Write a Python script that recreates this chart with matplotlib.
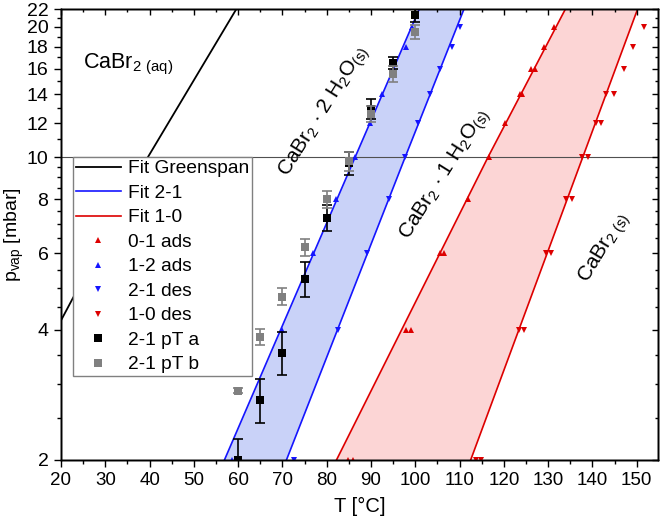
import numpy as np
import matplotlib
matplotlib.use('Agg')
import matplotlib.pyplot as plt
from matplotlib.ticker import FixedLocator, NullFormatter, FixedFormatter

plt.rcParams['font.family'] = ['Liberation Sans', 'DejaVu Sans']
plt.rcParams['mathtext.default'] = 'regular'

# ---------------- data ----------------
# fit lines: temperature (°C) at pressures fit_p (mbar)
fit_p = [2, 10, 22]
greenspan_T = [20.0, 39.6, 59.6]
greenspan_p = [4.2, 10.0, 22.0]
fit21_ads_T = [56.9, 86.4, 100.9]
fit21_des_T = [70.9, 97.7, 111.0]
fit10_ads_T = [82.2, 116.4, 133.9]
fit10_des_T = [112.5, 137.8, 150.2]

# 0-1 ads (red, up)
ads01_T = [84.9, 86.0, 98.0, 99.0, 105.6, 106.4, 111.9, 116.6, 120.3, 123.6, 124.2, 126.1, 127.1, 129.0, 131.3]
ads01_p = [2, 2, 4, 4, 6, 6, 8, 10, 12, 14, 14, 16, 16, 18, 20]
# 1-2 ads (blue, up)
ads12_T = [58.7, 70.0, 77.0, 82.0, 86.3, 89.8, 92.5, 95.0, 97.9, 99.3]
ads12_p = [2, 4, 6, 8, 10, 12, 14, 16, 18, 20]
# 2-1 des (blue, down)
des21_T = [72.7, 82.5, 89.2, 94.0, 97.6, 100.6, 103.4, 105.5, 108.3, 110.2]
des21_p = [2, 4, 6, 8, 10, 12, 14, 16, 18, 20]
# 1-0 des (red, down)
des10_T = [113.8, 114.8, 123.5, 124.6, 129.5, 130.7, 134.0, 135.3, 137.6, 138.9,
           140.7, 141.9, 143.1, 144.8, 147.1, 149.2, 151.7]
des10_p = [2, 2, 4, 4, 6, 6, 8, 8, 10, 10, 12, 12, 14, 14, 16, 18, 20]
# 2-1 pT a / b
pT_T = [60, 65, 70, 75, 80, 85, 90, 95, 100]
pTa_p = [2.0, 2.75, 3.54, 5.24, 7.26, 9.7, 12.95, 16.5, 21.3]
pTa_err = [0.24, 0.32, 0.40, 0.48, 0.52, 0.6, 0.7, 0.55, 0.8]
pTb_p = [2.89, 3.85, 4.77, 6.2, 8.0, 9.8, 12.6, 15.6, 19.5]
pTb_err = [0.04, 0.16, 0.22, 0.28, 0.38, 0.5, 0.55, 0.65, 0.7]

x_ticks = list(range(20, 151, 10))
x_minor = list(range(25, 155, 10))
y_ticks = [2, 4, 6, 8, 10, 12, 14, 16, 18, 20, 22]
y_minor = [2.5, 3, 3.5, 4.5, 5, 5.5, 6.5, 7, 7.5, 8.5, 9, 9.5, 11, 13, 15, 17, 19, 21]

BLUE = '#1515ff'
RED = '#dd0000'
GREY = '#808080'

# ---------------- figure ----------------
fig = plt.figure(figsize=(6.61, 5.16), dpi=100)
W, H = 661, 516
L, R, T, B = 61, 658, 9, 460
ax = fig.add_axes([L / W, 1 - B / H, (R - L) / W, (B - T) / H])
ax.set_yscale('log')
ax.set_xlim(20, 154.8)
ax.set_ylim(2, 22)

# shaded regions
ax.fill(np.concatenate([fit21_ads_T, fit21_des_T[::-1]]),
        np.concatenate([fit_p, fit_p[::-1]]), color='#c9d2f8', lw=0, zorder=1)
ax.fill(np.concatenate([fit10_ads_T, fit10_des_T[::-1]]),
        np.concatenate([fit_p, fit_p[::-1]]), color='#fcd5d5', lw=0, zorder=1)

ax.axhline(10, color='#505050', lw=0.8, zorder=1.5)

ax.plot(greenspan_T, greenspan_p, color='black', lw=1.3, label='Fit Greenspan', zorder=2)
ax.plot(fit21_ads_T, fit_p, color=BLUE, lw=1.2, label='Fit 2-1', zorder=2)
ax.plot(fit21_des_T, fit_p, color=BLUE, lw=1.2, zorder=2)
ax.plot(fit10_ads_T, fit_p, color=RED, lw=1.2, label='Fit 1-0', zorder=2)
ax.plot(fit10_des_T, fit_p, color=RED, lw=1.2, zorder=2)

ms_tri = 4.8
ax.plot(ads01_T, ads01_p, ls='none', marker='^', ms=ms_tri, color=RED, mew=0, label='0-1 ads', zorder=3)
ax.plot(ads12_T, ads12_p, ls='none', marker='^', ms=ms_tri, color=BLUE, mew=0, label='1-2 ads', zorder=3)
ax.plot(des21_T, des21_p, ls='none', marker='v', ms=ms_tri, color=BLUE, mew=0, label='2-1 des', zorder=3)
ax.plot(des10_T, des10_p, ls='none', marker='v', ms=ms_tri, color=RED, mew=0, label='1-0 des', zorder=3)

ax.errorbar(pT_T, pTa_p, yerr=pTa_err, fmt='none', ecolor='black', elinewidth=1.2,
            capsize=3.3, capthick=1.2, zorder=4)
ax.plot(pT_T, pTa_p, ls='none', marker='s', ms=6.2, color='black', mew=0, label='2-1 pT a', zorder=4.1)
ax.errorbar(pT_T, pTb_p, yerr=pTb_err, fmt='none', ecolor=GREY, elinewidth=1.2,
            capsize=3.3, capthick=1.2, zorder=4.2)
ax.plot(pT_T, pTb_p, ls='none', marker='s', ms=6.2, color=GREY, mew=0, label='2-1 pT b', zorder=4.3)

# ticks
ax.xaxis.set_major_locator(FixedLocator(x_ticks))
ax.xaxis.set_minor_locator(FixedLocator(x_minor))
ax.yaxis.set_major_locator(FixedLocator(y_ticks))
ax.yaxis.set_major_formatter(FixedFormatter([str(v) for v in y_ticks]))
ax.yaxis.set_minor_locator(FixedLocator(y_minor))
ax.yaxis.set_minor_formatter(NullFormatter())
ax.tick_params(which='major', direction='out', length=5, width=1.0)
ax.tick_params(which='minor', direction='out', length=2.9, width=1.0)
ax.tick_params(axis='x', labelsize=13.5, pad=3.5)
ax.tick_params(axis='y', labelsize=14, pad=4)
for s in ax.spines.values():
    s.set_linewidth(1.0)

# mirrored inward ticks on top/right
axt = ax.twiny()
axt.set_xlim(ax.get_xlim())
axt.xaxis.set_major_locator(FixedLocator(x_ticks))
axt.xaxis.set_minor_locator(FixedLocator(x_minor))
axt.tick_params(which='major', direction='in', length=4.5, width=1.0, labeltop=False)
axt.tick_params(which='minor', direction='in', length=2.5, width=1.0)
axr = ax.twinx()
axr.set_yscale('log')
axr.set_ylim(ax.get_ylim())
axr.yaxis.set_major_locator(FixedLocator(y_ticks))
axr.yaxis.set_minor_locator(FixedLocator(y_minor))
axr.yaxis.set_minor_formatter(NullFormatter())
axr.tick_params(which='major', direction='in', length=4.5, width=1.0, labelright=False)
axr.tick_params(which='minor', direction='in', length=2.5, width=1.0)
for a in (axt, axr):
    a.patch.set_visible(False)
    for s in a.spines.values():
        s.set_linewidth(1.0)

ax.set_xlabel('T [°C]', fontsize=14.5, labelpad=6)
ax.set_ylabel('p$_{vap}$ [mbar]', fontsize=14, labelpad=0.5)

# region labels
fs_lab = 15
ax.text(0.037, 0.869, 'CaBr$_{2\\ (aq)}$', transform=ax.transAxes, fontsize=15.5,
        ha='left', va='baseline')
ax.text(0.442, 0.772, 'CaBr$_2$ · 2 H$_2$O$_{(s)}$', transform=ax.transAxes, fontsize=fs_lab,
        ha='center', va='center', rotation=58, rotation_mode='anchor')
ax.text(0.645, 0.632, 'CaBr$_2$ · 1 H$_2$O$_{(s)}$', transform=ax.transAxes, fontsize=fs_lab,
        ha='center', va='center', rotation=58, rotation_mode='anchor')
ax.text(0.911, 0.470, 'CaBr$_{2\\ (s)}$', transform=ax.transAxes, fontsize=fs_lab,
        ha='center', va='center', rotation=59, rotation_mode='anchor')

leg = ax.legend(loc='upper left', bbox_to_anchor=(0.020, 0.672), borderaxespad=0,
                fontsize=13.8, frameon=True, fancybox=False, framealpha=1,
                edgecolor='#808080', handlelength=2.35, handletextpad=0.35,
                borderpad=0.15, labelspacing=0.37, markerscale=1.0)
leg.get_frame().set_linewidth(1.0)
leg.set_zorder(10)

fig.savefig('out.png', dpi=100)
